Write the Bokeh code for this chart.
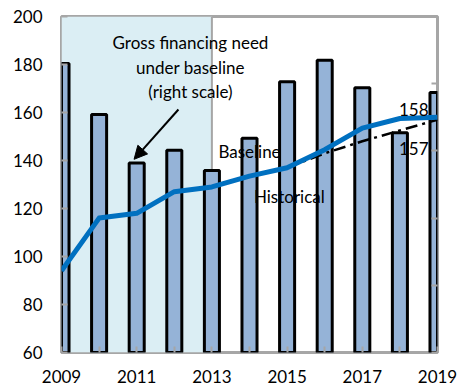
from bokeh.plotting import figure
from bokeh.models import (Range1d, LinearAxis, FixedTicker, BoxAnnotation, Span,
                          Label, Arrow, NormalHead)
from bokeh.core.properties import value
from bokeh.embed import file_html
from bokeh.resources import INLINE

# ---- data ----
years = [2009, 2010, 2011, 2012, 2013, 2014, 2015, 2016, 2017, 2018, 2019]
gross_financing_need = [43.0, 35.4, 28.2, 30.1, 27.1, 31.9, 40.3, 43.5, 39.4, 32.7, 38.7]  # right scale
baseline_debt = [94, 116, 118, 127, 129, 133.5, 137, 144.5, 153.5, 157.5, 158]
historical_years = [2015, 2016, 2017, 2018, 2019]
historical_debt = [137, 143, 148, 152.5, 157]
left_ticks = [60, 80, 100, 120, 140, 160, 180, 200]
right_ticks = [0, 10, 20, 30, 40, 50]
x_label_years = [2009, 2011, 2013, 2015, 2017, 2019]
x_minor_years = [2010, 2012, 2014, 2016, 2018]
shade_start, shade_end = 2009, 2013

FONT = "Lato"
FS = "17px"
GRAY = "#a6a6a6"
DY = -7  # small pixel nudge for text placement

p = figure(frame_width=376, frame_height=336, output_backend="svg", toolbar_location=None,
           x_range=Range1d(years[0], years[-1]), y_range=Range1d(left_ticks[0], left_ticks[-1]),
           min_border_left=61, min_border_right=21, min_border_top=16, min_border_bottom=38,
           background_fill_color="white", border_fill_color="white")
p.extra_y_ranges = {"right": Range1d(right_ticks[0], right_ticks[-1])}

p.xgrid.visible = False
p.ygrid.visible = False
p.outline_line_color = GRAY
p.outline_line_width = 3

# shaded historical period
p.add_layout(BoxAnnotation(left=shade_start, right=shade_end, fill_color="#dbeef4",
                           fill_alpha=1, line_color=None, level="underlay"))
p.add_layout(Span(location=shade_end, dimension="height", line_color=GRAY,
                  line_width=2, level="underlay"))

# bars (right scale)
p.vbar(x=years, top=gross_financing_need, bottom=0, width=0.40, y_range_name="right",
       fill_color="#95b3d7", line_color="black", line_width=3)

# lines
p.line(historical_years, historical_debt, line_color="black", line_width=2.5,
       line_dash="12 5 3 5")
p.line(years, baseline_debt, line_color="#0070c0", line_width=5, line_join="round")

# axes
xa = p.xaxis[0]
xa.ticker = FixedTicker(ticks=x_label_years, minor_ticks=x_minor_years)
ya = p.yaxis[0]
ya.ticker = FixedTicker(ticks=left_ticks)
for ax in (xa, ya):
    ax.axis_line_color = None
    ax.major_tick_in = 6
    ax.major_tick_out = 0
    ax.minor_tick_in = 6
    ax.minor_tick_out = 0
    ax.major_tick_line_color = GRAY
    ax.minor_tick_line_color = GRAY
    ax.major_tick_line_width = 2
    ax.minor_tick_line_width = 2
    ax.major_label_text_font = FONT
    ax.major_label_text_font_size = FS
    ax.major_label_text_color = "black"
xa.major_label_standoff = 17
ya.major_label_standoff = 19

ra = LinearAxis(y_range_name="right", ticker=FixedTicker(ticks=right_ticks),
                major_label_overrides={t: "" for t in right_ticks},
                axis_line_color=None, major_tick_in=6, major_tick_out=0,
                major_tick_line_color=GRAY, major_tick_line_width=2,
                minor_tick_line_color=None, major_label_standoff=0)
p.add_layout(ra, "right")
# right-scale tick labels (cut off by the window edge, as in the original)
for t in right_ticks:
    p.add_layout(Label(x=years[-1], y=t, y_range_name="right", x_offset=14, text=str(t),
                       text_align="left", text_baseline="middle", text_font=FONT,
                       text_font_size=FS, text_color="black"))

# annotations
p.text(x=[2012.43] * 3, y=[186.25, 175.83, 165.83],
       text=["Gross financing need", "under baseline", "(right scale)"],
       y_offset=DY, text_align="center", text_baseline="alphabetic", text_font=value(FONT),
       text_font_size=FS, text_color="black")
p.add_layout(Arrow(end=NormalHead(size=13, fill_color="black", line_color="black"),
                   x_start=2012.11, y_start=161.25, x_end=2010.93, y_end=140.5,
                   line_color="black", line_width=2))
p.text(x=[2014.0], y=[140.8], text=["Baseline"], y_offset=DY, text_align="center",
       text_baseline="alphabetic", text_font=value(FONT), text_font_size=FS, text_color="black")
p.text(x=[2015.06], y=[122.2], text=["Historical"], y_offset=DY, text_align="center",
       text_baseline="alphabetic", text_font=value(FONT), text_font_size=FS, text_color="black")

# end values
p.text(x=[years[-1]], y=[baseline_debt[-1]], text=[str(round(baseline_debt[-1]))],
       x_offset=-9, y_offset=DY - 1, text_align="right", text_baseline="alphabetic",
       text_font=value(FONT), text_font_size=FS, text_color="black")
p.text(x=[historical_years[-1]], y=[historical_debt[-1]], text=[str(round(historical_debt[-1]))],
       x_offset=-9, y_offset=29, text_align="right", text_baseline="alphabetic",
       text_font=value(FONT), text_font_size=FS, text_color="black")

open("out.html", "w").write(file_html(p, INLINE))
